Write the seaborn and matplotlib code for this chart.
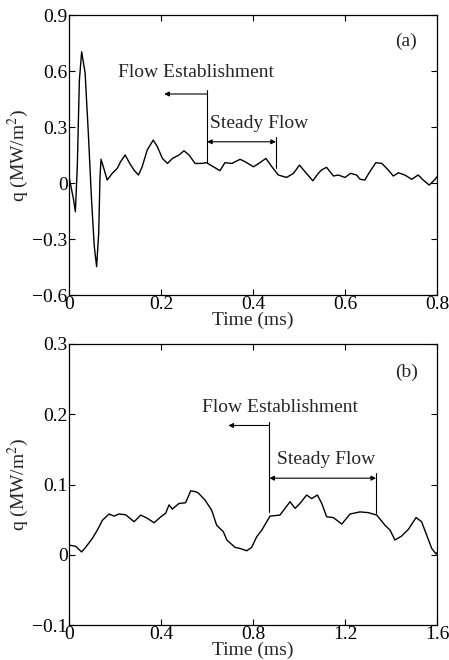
import numpy as np
import pandas as pd
import matplotlib
matplotlib.use("Agg")
import matplotlib.pyplot as plt
import seaborn as sns

# 패널 (a) 열유속 데이터
t_a = [0.0, 0.0094, 0.0138, 0.018, 0.0225, 0.0275, 0.035, 0.042, 0.049, 0.055,
       0.060, 0.0645, 0.0674, 0.0696, 0.0746, 0.083, 0.094, 0.105, 0.112, 0.122,
       0.130, 0.141, 0.151, 0.159, 0.170, 0.183, 0.192, 0.203, 0.214, 0.225,
       0.239, 0.250, 0.261, 0.274, 0.288, 0.299, 0.314, 0.328, 0.339, 0.354,
       0.372, 0.383, 0.401, 0.415, 0.428, 0.441, 0.455, 0.473, 0.488, 0.501,
       0.513, 0.530, 0.542, 0.549, 0.560, 0.575, 0.585, 0.600, 0.612, 0.625,
       0.633, 0.643, 0.654, 0.667, 0.680, 0.694, 0.705, 0.716, 0.730, 0.745,
       0.759, 0.770, 0.783, 0.796, 0.800]
q_a = [0.034, -0.082, -0.154, 0.087, 0.55, 0.703, 0.59, 0.266, -0.091, -0.341,
       -0.448, -0.27, 0.034, 0.127, 0.087, 0.016, 0.052, 0.079, 0.114, 0.15,
       0.114, 0.07, 0.043, 0.087, 0.177, 0.23, 0.195, 0.132, 0.105, 0.132,
       0.15, 0.173, 0.15, 0.105, 0.105, 0.109, 0.087, 0.066, 0.109, 0.105,
       0.127, 0.114, 0.087, 0.109, 0.132, 0.087, 0.043, 0.030, 0.052, 0.096,
       0.061, 0.012, 0.052, 0.07, 0.084, 0.0375, 0.043, 0.03, 0.052, 0.043,
       0.02, 0.016, 0.061, 0.109, 0.105, 0.07, 0.0375, 0.055, 0.043, 0.02,
       0.043, 0.016, -0.011, 0.02, 0.034]

# 패널 (b) 열유속 데이터
t_b = [0.0, 0.029, 0.055, 0.072, 0.101, 0.123, 0.145, 0.174, 0.196, 0.217,
       0.246, 0.283, 0.312, 0.340, 0.370, 0.399, 0.420, 0.435, 0.449, 0.478,
       0.507, 0.529, 0.551, 0.562, 0.591, 0.620, 0.642, 0.671, 0.686, 0.722,
       0.743, 0.773, 0.794, 0.816, 0.838, 0.874, 0.917, 0.939, 0.961, 0.983,
       1.004, 1.033, 1.055, 1.080, 1.099, 1.120, 1.149, 1.186, 1.222, 1.265,
       1.301, 1.338, 1.374, 1.396, 1.417, 1.446, 1.475, 1.509, 1.533, 1.555,
       1.577, 1.596, 1.600]
q_b = [0.0138, 0.012, 0.004, 0.0105, 0.023, 0.035, 0.049, 0.058, 0.055, 0.058,
       0.057, 0.047, 0.0565, 0.052, 0.0455, 0.054, 0.059, 0.071, 0.065, 0.073,
       0.074, 0.091, 0.0897, 0.088, 0.078, 0.0636, 0.042, 0.0328, 0.021, 0.0105,
       0.009, 0.0057, 0.0105, 0.0256, 0.035, 0.055, 0.0565, 0.066, 0.0755, 0.066,
       0.073, 0.085, 0.080, 0.085, 0.073, 0.054, 0.053, 0.0437, 0.058, 0.061,
       0.060, 0.0565, 0.042, 0.035, 0.021, 0.0266, 0.036, 0.053, 0.047, 0.028,
       0.009, 0.001, 0.003]

# 축 설정
xlim_a, ylim_a = (0, 0.8), (-0.6, 0.9)
xticks_a = [0, 0.2, 0.4, 0.6, 0.8]
yticks_a = [-0.6, -0.3, 0, 0.3, 0.6, 0.9]
xlim_b, ylim_b = (0, 1.6), (-0.1, 0.3)
xticks_b = [0, 0.4, 0.8, 1.2, 1.6]
yticks_b = [-0.1, 0, 0.1, 0.2, 0.3]

# 주석 위치 (데이터 좌표)
ann_a = dict(start=0.30, end=0.45, left=0.207, y_left=0.477, top_start=0.50,
             bot_start=0.105, y_both=0.221, top_end=0.245, bot_end=0.079,
             fe_x=0.107, fe_y=0.59, sf_x=0.307, sf_y=0.32, tag=(0.708, 0.757))
ann_b = dict(start=0.871, end=1.335, left=0.693, y_left=0.184, top_start=0.189,
             bot_start=0.061, y_both=0.109, top_end=0.117, bot_end=0.060,
             fe_x=0.577, fe_y=0.21, sf_x=0.906, sf_y=0.135, tag=(1.42, 0.26))

FS = 14

sns.set_style("ticks")
plt.rcParams['font.family'] = ['Liberation Serif', 'DejaVu Serif']
plt.rcParams['mathtext.fontset'] = 'stix'
plt.rcParams['axes.linewidth'] = 0.9

fig = plt.figure(figsize=(4.49, 6.60), dpi=100)
ax_a = fig.add_axes([0.1537, 0.553, 0.8196, 0.4242])
ax_b = fig.add_axes([0.1537, 0.053, 0.8196, 0.4258])


def fmt(v):
    s = f"{v:g}"
    return s.replace("-", "\u2212")


def draw(ax, t, q, xlim, ylim, xticks, yticks, ann, tag):
    df = pd.DataFrame({'t': t, 'q': q})
    sns.lineplot(data=df, x='t', y='q', ax=ax, color='black', linewidth=1.0)
    ax.set_xlim(*xlim)
    ax.set_ylim(*ylim)
    ax.set_xticks(xticks)
    ax.set_yticks(yticks)
    ax.set_xticklabels([fmt(v) for v in xticks])
    ax.set_yticklabels([fmt(v) for v in yticks])
    ax.tick_params(direction='in', length=4, width=0.8, top=True, right=True,
                   labelsize=FS, colors='black', pad=1)
    for sp in ax.spines.values():
        sp.set_color('black')
    ax.set_xlabel('Time (ms)', fontsize=FS, labelpad=-1)
    ax.set_ylabel(r'q (MW/m$^2$)', fontsize=FS, labelpad=1)

    # 구간 표시 선과 화살표
    ax.plot([ann['start'], ann['start']], [ann['bot_start'], ann['top_start']],
            color='black', lw=0.8)
    ax.plot([ann['end'], ann['end']], [ann['bot_end'], ann['top_end']],
            color='black', lw=0.8)
    ax.annotate('', xy=(ann['left'], ann['y_left']),
                xytext=(ann['start'], ann['y_left']),
                arrowprops=dict(arrowstyle='-|>', lw=0.8, color='black',
                                mutation_scale=7, shrinkA=0, shrinkB=0))
    ax.annotate('', xy=(ann['start'], ann['y_both']),
                xytext=(ann['end'], ann['y_both']),
                arrowprops=dict(arrowstyle='<|-|>', lw=0.8, color='black',
                                mutation_scale=7, shrinkA=0, shrinkB=0))
    ax.text(ann['fe_x'], ann['fe_y'], 'Flow Establishment', fontsize=FS,
            ha='left', va='center')
    ax.text(ann['sf_x'], ann['sf_y'], 'Steady Flow', fontsize=FS,
            ha='left', va='center')
    ax.text(ann['tag'][0], ann['tag'][1], tag, fontsize=FS,
            ha='left', va='center')


draw(ax_a, t_a, q_a, xlim_a, ylim_a, xticks_a, yticks_a, ann_a, '(a)')
draw(ax_b, t_b, q_b, xlim_b, ylim_b, xticks_b, yticks_b, ann_b, '(b)')

fig.savefig('out.png', dpi=100)
